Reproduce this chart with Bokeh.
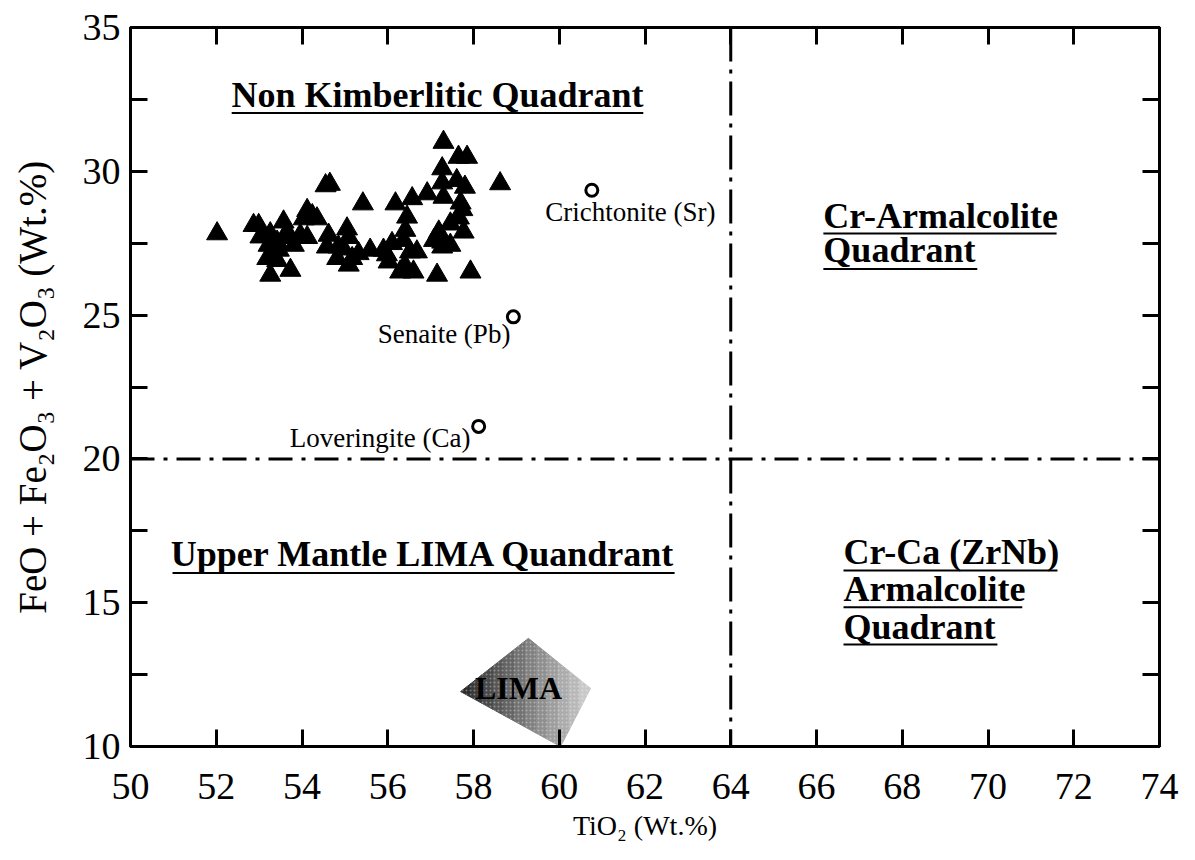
from bokeh.plotting import figure
from bokeh.models import LinearAxis, FixedTicker, Span, ColumnDataSource, CustomJSTickFormatter
from bokeh.core.properties import value
from bokeh.embed import file_html
from bokeh.resources import INLINE

# ---- data -------------------------------------------------------------
tri_x = [52.02, 57.30, 57.65, 57.85, 58.62, 57.27, 54.55, 54.65, 55.42, 56.18,
         56.57, 56.92, 57.27, 57.61, 57.80, 57.30, 57.70, 57.74, 57.66, 57.77,
         57.19, 57.27, 57.08, 57.27, 57.15, 57.93, 56.45, 56.41, 56.37, 56.68,
         56.52, 56.10, 55.98, 56.02, 56.29, 56.60, 56.40, 55.59, 55.32, 55.09,
         55.05, 55.09, 54.62, 54.58, 54.85, 54.97, 54.12, 54.24, 54.35, 54.04,
         53.96, 54.12, 53.57, 53.61, 53.73, 53.42, 52.87, 52.99, 53.03, 53.26,
         53.22, 53.30, 53.19, 53.42, 53.26, 53.73, 53.46, 53.81, 54.82, 55.17,
         57.46, 57.46, 55.90]
tri_y = [27.83, 31.01, 30.49, 30.49, 29.57, 30.09, 29.50, 29.55, 28.87, 28.87,
         29.05, 29.22, 29.60, 29.68, 29.45, 29.10, 28.90, 28.67, 28.38, 27.89,
         27.89, 27.54, 27.60, 27.37, 26.39, 26.50, 28.41, 27.95, 27.60, 27.20,
         27.20, 27.49, 27.10, 26.85, 26.50, 26.50, 26.73, 27.26, 27.14, 26.74,
         28.00, 27.70, 27.78, 27.37, 27.37, 27.30, 28.64, 28.46, 28.35, 28.35,
         27.78, 27.70, 28.24, 27.78, 27.70, 27.54, 28.12, 28.12, 27.72, 27.83,
         27.43, 27.14, 26.97, 26.90, 26.39, 26.56, 27.26, 27.43, 26.97, 26.97,
         27.43, 28.17, 27.26]

mineral_names = ["Crichtonite (Sr)", "Senaite (Pb)", "Loveringite (Ca)"]
mineral_x = [60.76, 58.93, 58.12]
mineral_y = [29.34, 24.94, 21.13]

lima_x = [59.28, 60.73, 60.03, 57.70]
lima_y = [13.76, 12.02, 10.00, 11.91]

div_x = 64
div_y = 20

x_ticks = [50, 52, 54, 56, 58, 60, 62, 64, 66, 68, 70, 72, 74]
y_ticks = [10, 15, 20, 25, 30, 35]
y_minor = [12.5, 17.5, 22.5, 27.5, 32.5]

# ---- figure -----------------------------------------------------------
FONT = "Liberation Serif"
p = figure(width=1195, height=860, x_range=(50, 74), y_range=(10, 35),
           output_backend="svg", toolbar_location=None,
           x_axis_location=None, y_axis_location=None,
           min_border_left=130, min_border_right=36,
           min_border_top=27, min_border_bottom=114)
p.grid.visible = False
p.outline_line_color = "black"
p.outline_line_width = 3
p.background_fill_color = "white"
p.border_fill_color = "white"


def make_axis(ticks, minor, labels=True):
    ax = LinearAxis(ticker=FixedTicker(ticks=ticks, minor_ticks=minor))
    ax.axis_line_width = 3
    ax.major_tick_line_width = 3
    ax.minor_tick_line_width = 3
    ax.major_tick_in = 17
    ax.major_tick_out = 0
    ax.minor_tick_in = 17
    ax.minor_tick_out = 0
    ax.major_label_text_font = FONT
    ax.major_label_text_font_size = "38px"
    ax.major_label_text_color = "black"
    ax.axis_label_text_font = FONT
    ax.axis_label_text_font_style = "normal"
    ax.axis_label_text_color = "black"
    if not labels:
        ax.formatter = CustomJSTickFormatter(code="return ''")
        ax.major_label_standoff = 0
    return ax


bottom = make_axis(x_ticks, [])
bottom.axis_label = "TiO\u2082 (Wt.%)"
bottom.axis_label_text_font_size = "28px"
bottom.major_label_standoff = 27
bottom.axis_label_standoff = 8
p.add_layout(bottom, "below")

left = make_axis(y_ticks, y_minor)
left.axis_label = "FeO + Fe\u2082O\u2083 + V\u2082O\u2083 (Wt.%)"
left.axis_label_text_font_size = "39px"
left.major_label_standoff = 10
left.axis_label_standoff = 26
p.add_layout(left, "left")

top = make_axis(x_ticks, [], labels=False)
p.add_layout(top, "above")
right = make_axis(y_ticks, y_minor, labels=False)
p.add_layout(right, "right")

# dividing dash-dot lines
p.add_layout(Span(location=div_y, dimension="width", line_color="black",
                  line_width=3, line_dash="24 9 4 9"))
p.add_layout(Span(location=div_x, dimension="height", line_color="black",
                  line_width=3, line_dash="34 8 4 8"))


# LIMA field, shaded dark (left) to light (right) in vertical bands
def clip_half(pts, xc, keep_right):
    out = []
    for i in range(len(pts)):
        cur, prev = pts[i], pts[i - 1]
        cin = cur[0] >= xc if keep_right else cur[0] <= xc
        pin = prev[0] >= xc if keep_right else prev[0] <= xc
        if cin != pin:
            t = (xc - prev[0]) / (cur[0] - prev[0])
            out.append((xc, prev[1] + t * (cur[1] - prev[1])))
        if cin:
            out.append(cur)
    return out


poly = list(zip(lima_x, lima_y))
n_band = 12
x_lo, x_hi = min(lima_x), max(lima_x)
band_xs, band_ys, band_col = [], [], []
for i in range(n_band):
    a = x_lo + (x_hi - x_lo) * i / n_band
    b = x_lo + (x_hi - x_lo) * (i + 1) / n_band
    piece = clip_half(clip_half(poly, a, True), b, False)
    if len(piece) >= 3:
        band_xs.append([q[0] for q in piece])
        band_ys.append([q[1] for q in piece])
        g = int(45 + (200 - 45) * i / (n_band - 1))
        band_col.append("#%02x%02x%02x" % (g, g, g))
p.patches(band_xs, band_ys, fill_color=band_col, line_color=band_col,
          line_width=1)
p.patch(lima_x, lima_y, fill_alpha=0, line_alpha=0, hatch_pattern="dot",
        hatch_color="white", hatch_alpha=0.35, hatch_scale=4, hatch_weight=1)
p.text(x=[59.05], y=[12.02], text=["LIMA"], text_font=value(FONT),
       text_font_style="bold", text_font_size="32px", text_color="black",
       text_align="center", text_baseline="middle")

# samples
p.scatter(tri_x, tri_y, marker="triangle", size=21, fill_color="black",
          line_color="black")
p.scatter(mineral_x, mineral_y, marker="circle", size=12,
          fill_color="white", line_color="black", line_width=3)

# mineral labels
lab_src = ColumnDataSource(dict(
    x=[61.66, 58.86, 57.93], y=[28.57, 24.36, 20.74], t=mineral_names,
    a=["center", "right", "right"]))
p.text(x="x", y="y", text="t", text_align="a", source=lab_src,
       text_font=value(FONT), text_font_size="27px", text_color="black",
       text_baseline="middle")

# quadrant titles
q_src = ColumnDataSource(dict(
    x=[57.16, 56.83, 66.16, 66.16, 66.63, 66.63, 66.63],
    y=[32.64, 16.71, 28.46, 27.25, 16.75, 15.46, 14.17],
    t=["Non Kimberlitic Quadrant", "Upper Mantle LIMA Quandrant",
       "Cr-Armalcolite", "Quadrant", "Cr-Ca (ZrNb)", "Armalcolite", "Quadrant"],
    a=["center", "center", "left", "left", "left", "left", "left"]))
p.text(x="x", y="y", text="t", text_align="a", source=q_src,
       text_font=value(FONT), text_font_style="bold", text_font_size="36px",
       text_color="black", text_baseline="middle")

# underlines
ul_x0 = [52.36, 50.98, 66.16, 66.16, 66.63, 66.63, 66.63]
ul_x1 = [61.96, 62.69, 71.60, 69.75, 71.62, 70.80, 70.22]
ul_y = [32.03, 16.03, 27.84, 26.60, 16.12, 14.84, 13.55]
p.segment(x0=ul_x0, y0=ul_y, x1=ul_x1, y1=ul_y, line_color="black",
          line_width=2)

open("out.html", "w").write(file_html(p, INLINE))
